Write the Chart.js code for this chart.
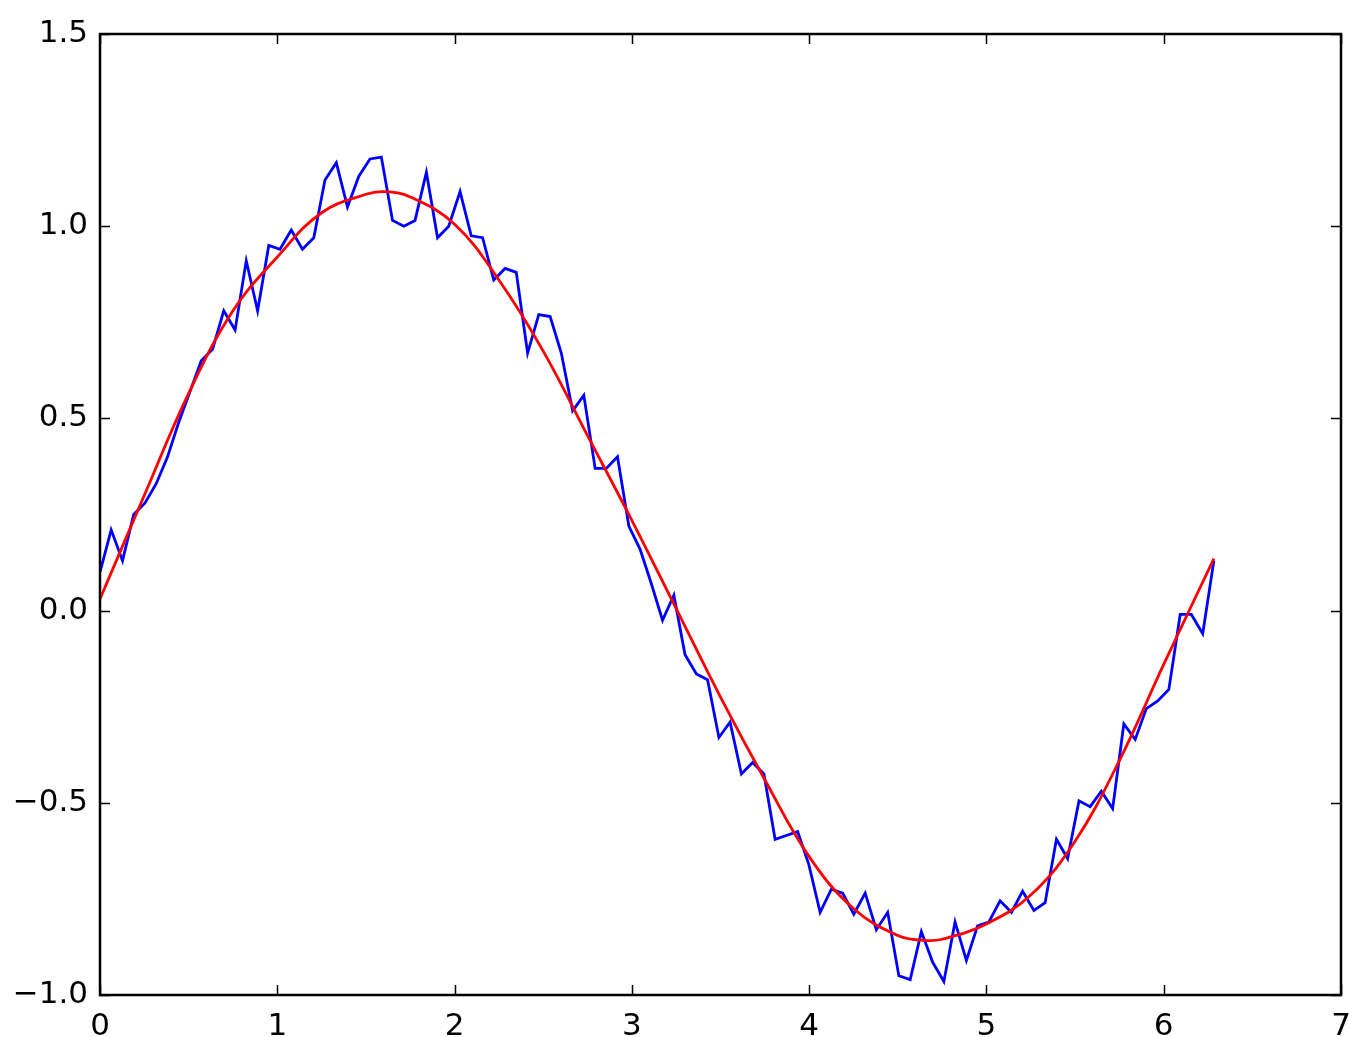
<!DOCTYPE html>
<html>
<head>
<meta charset="utf-8">
<script src="https://cdn.jsdelivr.net/npm/chart.js@4"></script>
<style>
  html, body { margin: 0; padding: 0; background: #ffffff; }
  #wrap { width: 1349px; height: 1037px; position: relative; }
</style>
</head>
<body>
<div id="wrap"><canvas id="c" width="1349" height="1037"></canvas></div>
<script>
// ---- data ----
const noisyX = [0.000,0.063,0.127,0.190,0.254,0.317,0.381,0.444,0.508,0.571,
  0.635,0.698,0.762,0.825,0.889,0.952,1.015,1.079,1.142,1.206,
  1.269,1.333,1.396,1.460,1.523,1.587,1.650,1.714,1.777,1.841,
  1.904,1.967,2.031,2.094,2.158,2.221,2.285,2.348,2.412,2.475,
  2.539,2.602,2.666,2.729,2.793,2.856,2.919,2.983,3.046,3.110,
  3.173,3.237,3.300,3.364,3.427,3.491,3.554,3.618,3.681,3.745,
  3.808,3.871,3.935,3.998,4.062,4.125,4.189,4.252,4.316,4.379,
  4.443,4.506,4.570,4.633,4.697,4.760,4.823,4.887,4.950,5.014,
  5.077,5.141,5.204,5.268,5.331,5.395,5.458,5.522,5.585,5.648,
  5.712,5.775,5.839,5.902,5.966,6.029,6.093,6.156,6.220,6.283];
const noisyY = [0.10,0.21,0.13,0.25,0.28,0.33,0.40,0.49,0.57,0.65,
  0.68,0.78,0.73,0.91,0.78,0.95,0.94,0.99,0.94,0.97,
  1.12,1.165,1.05,1.13,1.175,1.18,1.015,1.00,1.015,1.14,
  0.97,1.00,1.09,0.975,0.97,0.86,0.89,0.88,0.67,0.77,
  0.765,0.67,0.52,0.56,0.37,0.37,0.40,0.22,0.16,0.07,
  -0.025,0.04,-0.115,-0.165,-0.18,-0.33,-0.29,-0.425,-0.395,-0.425,
  -0.595,-0.585,-0.575,-0.66,-0.785,-0.725,-0.735,-0.79,-0.735,-0.83,
  -0.785,-0.95,-0.96,-0.835,-0.915,-0.965,-0.81,-0.91,-0.82,-0.81,
  -0.755,-0.785,-0.73,-0.78,-0.76,-0.595,-0.645,-0.495,-0.51,-0.47,
  -0.515,-0.295,-0.335,-0.255,-0.235,-0.205,-0.01,-0.01,-0.06,0.13];
const fitX = [0,0.25,0.5,0.75,1.0,1.25,1.5,1.6,1.75,2.0,2.25,2.5,2.75,3.0,3.25,
  3.5,3.75,4.0,4.25,4.5,4.65,4.75,5.0,5.25,5.5,5.75,6.0,6.283];
const fitY = [0.03,0.30,0.565,0.78,0.92,1.035,1.083,1.09,1.076,1.005,0.86,0.675,0.455,0.235,0.005,
  -0.225,-0.44,-0.64,-0.775,-0.845,-0.858,-0.855,-0.815,-0.74,-0.60,-0.39,-0.14,0.135];
const xTicks = [0,1,2,3,4,5,6,7];
const yTicks = [-1.0,-0.5,0.0,0.5,1.0,1.5];
const yTickLabels = ['\u22121.0','\u22120.5','0.0','0.5','1.0','1.5'];

const noisyPts = noisyX.map((x,i)=>({x:x, y:noisyY[i]}));
const fitPts = fitX.map((x,i)=>({x:x, y:fitY[i]}));

const FONT = "'DejaVu Sans', sans-serif";

const frameTicks = {
  id: 'frameTicks',
  afterDatasetsDraw(chart) {
    const ctx = chart.ctx, a = chart.chartArea;
    const xs = chart.scales.x, ys = chart.scales.y;
    ctx.save();
    ctx.strokeStyle = '#000';
    ctx.lineWidth = 1.5;
    const L = 10;
    ctx.beginPath();
    xTicks.forEach(v => {
      const px = Math.round(xs.getPixelForValue(v)) + 0.5;
      ctx.moveTo(px, a.bottom); ctx.lineTo(px, a.bottom - L);
      ctx.moveTo(px, a.top); ctx.lineTo(px, a.top + L);
    });
    yTicks.forEach(v => {
      const py = Math.round(ys.getPixelForValue(v)) + 0.5;
      ctx.moveTo(a.left, py); ctx.lineTo(a.left + L, py);
      ctx.moveTo(a.right, py); ctx.lineTo(a.right - L, py);
    });
    ctx.stroke();
    ctx.lineWidth = 2.5;
    ctx.strokeRect(a.left, a.top, a.right - a.left, a.bottom - a.top);
    ctx.restore();
  }
};

new Chart(document.getElementById('c'), {
  type: 'line',
  data: {
    datasets: [
      { label: 'fit', data: fitPts, borderColor: '#ff0000', borderWidth: 2.8,
        pointRadius: 0, tension: 0.4, fill: false, order: 0 },
      { label: 'noisy', data: noisyPts, borderColor: '#0000ff', borderWidth: 2.8,
        pointRadius: 0, tension: 0, fill: false, order: 1 }
    ]
  },
  options: {
    responsive: false,
    animation: false,
    devicePixelRatio: 1,
    layout: { padding: { top: 34, right: 8, left: 0, bottom: 0 } },
    plugins: { legend: { display: false }, tooltip: { enabled: false } },
    scales: {
      x: {
        type: 'linear', min: 0, max: 7,
        afterBuildTicks: s => { s.ticks = xTicks.map(v => ({value: v})); },
        afterFit: s => { s.height = 42; s.paddingRight = 0; s.paddingLeft = 0; },
        grid: { display: false },
        border: { display: false },
        ticks: { color: '#000', padding: 5, font: { family: FONT, size: 31 },
                 maxRotation: 0, autoSkip: false,
                 callback: v => String(v) }
      },
      y: {
        type: 'linear', min: -1, max: 1.5,
        afterBuildTicks: s => { s.ticks = yTicks.map(v => ({value: v})); },
        afterFit: s => { s.width = 100; s.paddingTop = 0; s.paddingBottom = 0; },
        grid: { display: false },
        border: { display: false },
        ticks: { color: '#000', padding: 4, font: { family: FONT, size: 31 },
                 autoSkip: false,
                 callback: v => { const i = yTicks.findIndex(t => Math.abs(t - v) < 1e-9); return i >= 0 ? yTickLabels[i] : ''; } }
      }
    }
  },
  plugins: [frameTicks]
});
</script>
</body>
</html>
